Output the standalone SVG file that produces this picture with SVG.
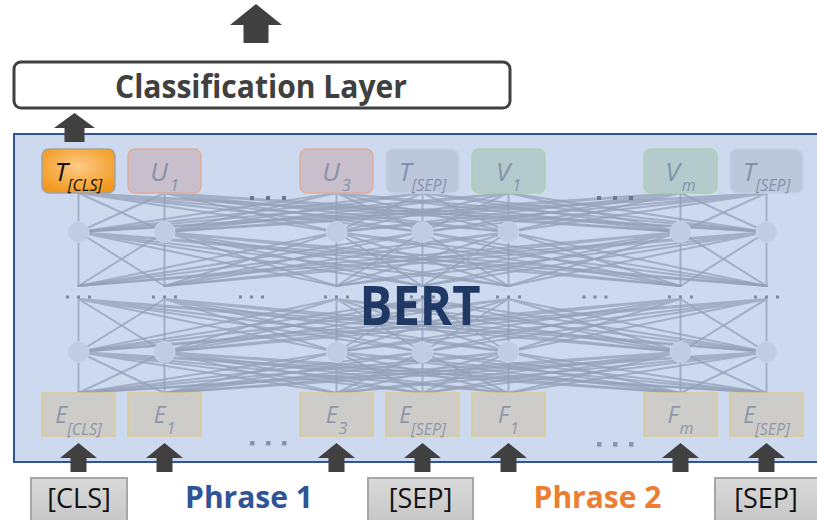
<svg xmlns="http://www.w3.org/2000/svg" xmlns:xlink="http://www.w3.org/1999/xlink" width="817" height="520" viewBox="0 0 817 520">
  <defs>
    <radialGradient id="clsGlow" cx="0.5" cy="0.4" r="0.65">
      <stop offset="0" stop-color="#FCCB86"/>
      <stop offset="1" stop-color="#F2971A"/>
    </radialGradient>
    <linearGradient id="tokenFill" x1="0" y1="0" x2="0" y2="1">
      <stop offset="0" stop-color="#DADADA"/>
      <stop offset="1" stop-color="#C4C4C4"/>
    </linearGradient>
    <!-- small block arrow, tip up, origin at bottom centre -->
    <path id="upArrow" d="M0 -29L18.5 -14L8 -14L8 0L-8 0L-8 -14L-18.5 -14Z"/>
    <!-- one fully connected layer between seven columns, 10 units tall; scaled per layer -->
    <g id="meshLayer" class="mesh">
      <path d="M78.5 0L78.5 10M78.5 0L164.5 10M78.5 0L336.5 10M78.5 0L422.5 10M78.5 0L508.5 10M78.5 0L680.5 10M78.5 0L766.5 10"/>
      <path d="M164.5 0L78.5 10M164.5 0L164.5 10M164.5 0L336.5 10M164.5 0L422.5 10M164.5 0L508.5 10M164.5 0L680.5 10M164.5 0L766.5 10"/>
      <path d="M336.5 0L78.5 10M336.5 0L164.5 10M336.5 0L336.5 10M336.5 0L422.5 10M336.5 0L508.5 10M336.5 0L680.5 10M336.5 0L766.5 10"/>
      <path d="M422.5 0L78.5 10M422.5 0L164.5 10M422.5 0L336.5 10M422.5 0L422.5 10M422.5 0L508.5 10M422.5 0L680.5 10M422.5 0L766.5 10"/>
      <path d="M508.5 0L78.5 10M508.5 0L164.5 10M508.5 0L336.5 10M508.5 0L422.5 10M508.5 0L508.5 10M508.5 0L680.5 10M508.5 0L766.5 10"/>
      <path d="M680.5 0L78.5 10M680.5 0L164.5 10M680.5 0L336.5 10M680.5 0L422.5 10M680.5 0L508.5 10M680.5 0L680.5 10M680.5 0L766.5 10"/>
      <path d="M766.5 0L78.5 10M766.5 0L164.5 10M766.5 0L336.5 10M766.5 0L422.5 10M766.5 0L508.5 10M766.5 0L680.5 10M766.5 0L766.5 10"/>
    </g>
    <!-- three small dots used in the middle row -->
    <g id="midDots" class="middot">
      <rect x="-12.5" y="-1.5" width="3" height="3"/>
      <rect x="-1.5" y="-1.5" width="3" height="3"/>
      <rect x="9.5" y="-1.5" width="3" height="3"/>
    </g>
  </defs>
  <style>
    .arrow { fill: #404040; }
    .mesh path { fill: none; stroke: #94A0B8; stroke-width: 2; stroke-opacity: 0.75; stroke-linecap: round; vector-effect: non-scaling-stroke; }
    .unit { fill: #C0CCE1; stroke: #CAD5E9; stroke-width: 1; }
    .middot rect { fill: #7F8AA2; }
    .topdot { fill: #6C778D; }
    .botdot { fill: #8A95AB; }
    .lbl { font-family: "Open Sans", "Liberation Sans", sans-serif; font-style: italic; text-anchor: middle; }
    .top { font-size: 26px; fill: #8592AB; }
    .emb { font-size: 23px; fill: #8D97AC; }
    .sub { font-size: 16px; }
    .u { fill: #C9BECB; stroke: #E1AD97; stroke-width: 1.5; }
    .sep { fill: #BCC7DB; stroke: #C6D0E3; stroke-width: 1.5; }
    .v { fill: #B5CACD; stroke: #A9D2AE; stroke-width: 1.5; }
    .e { fill: #CDCCC8; stroke: #DCCB8E; stroke-width: 1.5; }
    .tok { fill: url(#tokenFill); stroke: #A6A6A6; stroke-width: 2; }
    .toktxt { font-family: "Open Sans", "Liberation Sans", sans-serif; font-size: 27px; fill: #111111; text-anchor: middle; }
    .phrase { font-family: "Open Sans", "Liberation Sans", sans-serif; font-weight: bold; font-size: 30px; text-anchor: middle; }
  </style>

  <rect width="817" height="520" fill="#FFFFFF"/>

  <!-- BERT encoder frame -->
  <g id="bert">
    <rect x="14" y="134" width="810" height="328" fill="#CDD9EE" stroke="#2F5597" stroke-width="2"/>
  </g>

  <!-- connections between layers -->
  <g id="connectors">
    <use xlink:href="#meshLayer" transform="translate(0 193) scale(1 3.9)"/>
    <use xlink:href="#meshLayer" transform="translate(0 232) scale(1 5.4)"/>
    <use xlink:href="#meshLayer" transform="translate(0 299) scale(1 5.3)"/>
    <use xlink:href="#meshLayer" transform="translate(0 352) scale(1 4.1)"/>
  </g>

  <!-- hidden units, first row -->
  <g id="h1-0"><circle class="unit" cx="78.5" cy="232" r="10.5"/></g>
  <g id="h1-1"><circle class="unit" cx="164.5" cy="232" r="10.5"/></g>
  <g id="h1-3"><circle class="unit" cx="336.5" cy="232" r="10.5"/></g>
  <g id="h1-4"><circle class="unit" cx="422.5" cy="232" r="10.5"/></g>
  <g id="h1-5"><circle class="unit" cx="508.5" cy="232" r="10.5"/></g>
  <g id="h1-7"><circle class="unit" cx="680.5" cy="232" r="10.5"/></g>
  <g id="h1-8"><circle class="unit" cx="766.5" cy="232" r="10.5"/></g>

  <!-- hidden units, second row -->
  <g id="h2-0"><circle class="unit" cx="78.5" cy="352" r="10.5"/></g>
  <g id="h2-1"><circle class="unit" cx="164.5" cy="352" r="10.5"/></g>
  <g id="h2-3"><circle class="unit" cx="336.5" cy="352" r="10.5"/></g>
  <g id="h2-4"><circle class="unit" cx="422.5" cy="352" r="10.5"/></g>
  <g id="h2-5"><circle class="unit" cx="508.5" cy="352" r="10.5"/></g>
  <g id="h2-7"><circle class="unit" cx="680.5" cy="352" r="10.5"/></g>
  <g id="h2-8"><circle class="unit" cx="766.5" cy="352" r="10.5"/></g>

  <!-- elided middle layers -->
  <g id="middle-dots">
    <use xlink:href="#midDots" x="78.5" y="297"/>
    <use xlink:href="#midDots" x="164.5" y="297"/>
    <use xlink:href="#midDots" x="251.5" y="297"/>
    <use xlink:href="#midDots" x="336.5" y="297"/>
    <use xlink:href="#midDots" x="422.5" y="297"/>
    <use xlink:href="#midDots" x="508.5" y="297"/>
    <use xlink:href="#midDots" x="595" y="297"/>
    <use xlink:href="#midDots" x="680.5" y="297"/>
    <use xlink:href="#midDots" x="766.5" y="297"/>
  </g>

  <!-- output tokens -->
  <g id="t-cls">
    <rect x="42" y="149" width="73" height="44" rx="7" fill="url(#clsGlow)" stroke="#A3A3A3" stroke-width="1.5"/>
    <text class="lbl" x="78.5" y="181" font-size="26" fill="#111111">T<tspan class="sub" dx="0" dy="10">[CLS]</tspan></text>
  </g>
  <g id="u1">
    <rect class="u" x="128" y="149" width="73" height="44" rx="7"/>
    <text class="lbl top" x="164.5" y="181">U<tspan class="sub" dx="2" dy="10">1</tspan></text>
  </g>
  <g id="u3">
    <rect class="u" x="300" y="149" width="73" height="44" rx="7"/>
    <text class="lbl top" x="336.5" y="181">U<tspan class="sub" dx="2" dy="10">3</tspan></text>
  </g>
  <g id="t-sep-1">
    <rect class="sep" x="386" y="149" width="73" height="44" rx="7"/>
    <text class="lbl top" x="422.5" y="181">T<tspan class="sub" dx="0" dy="10">[SEP]</tspan></text>
  </g>
  <g id="v1">
    <rect class="v" x="472" y="149" width="73" height="44" rx="7"/>
    <text class="lbl top" x="508.5" y="181">V<tspan class="sub" dx="2" dy="10">1</tspan></text>
  </g>
  <g id="vm">
    <rect class="v" x="644" y="149" width="73" height="44" rx="7"/>
    <text class="lbl top" x="680.5" y="181">V<tspan class="sub" dx="2" dy="10">m</tspan></text>
  </g>
  <g id="t-sep-2">
    <rect class="sep" x="730" y="149" width="73" height="44" rx="7"/>
    <text class="lbl top" x="766.5" y="181">T<tspan class="sub" dx="0" dy="10">[SEP]</tspan></text>
  </g>

  <!-- elided output tokens -->
  <g id="top-dots" class="topdot">
    <rect x="250" y="196" width="4" height="4"/>
    <rect x="266" y="196" width="4" height="4"/>
    <rect x="282" y="196" width="4" height="4"/>
    <rect x="597" y="196" width="4" height="4"/>
    <rect x="613" y="196" width="4" height="4"/>
    <rect x="629" y="196" width="4" height="4"/>
  </g>

  <!-- input embeddings -->
  <g id="e-cls">
    <rect class="e" x="42" y="393" width="73" height="43"/>
    <text class="lbl emb" x="78.5" y="423">E<tspan class="sub" dx="0" dy="12">[CLS]</tspan></text>
  </g>
  <g id="e1">
    <rect class="e" x="128" y="393" width="73" height="43"/>
    <text class="lbl emb" x="164.5" y="423">E<tspan class="sub" dx="1" dy="11">1</tspan></text>
  </g>
  <g id="e3">
    <rect class="e" x="300" y="393" width="73" height="43"/>
    <text class="lbl emb" x="336.5" y="423">E<tspan class="sub" dx="1" dy="11">3</tspan></text>
  </g>
  <g id="e-sep-1">
    <rect class="e" x="386" y="393" width="73" height="43"/>
    <text class="lbl emb" x="422.5" y="423">E<tspan class="sub" dx="0" dy="12">[SEP]</tspan></text>
  </g>
  <g id="f1">
    <rect class="e" x="472" y="393" width="73" height="43"/>
    <text class="lbl emb" x="508.5" y="423">F<tspan class="sub" dx="1" dy="11">1</tspan></text>
  </g>
  <g id="fm">
    <rect class="e" x="644" y="393" width="73" height="43"/>
    <text class="lbl emb" x="680.5" y="423">F<tspan class="sub" dx="1" dy="11">m</tspan></text>
  </g>
  <g id="e-sep-2">
    <rect class="e" x="730" y="393" width="73" height="43"/>
    <text class="lbl emb" x="766.5" y="423">E<tspan class="sub" dx="0" dy="12">[SEP]</tspan></text>
  </g>

  <!-- elided input embeddings -->
  <g id="bottom-dots" class="botdot">
    <rect x="250" y="441" width="4.5" height="4.5"/>
    <rect x="266" y="441" width="4.5" height="4.5"/>
    <rect x="282" y="441" width="4.5" height="4.5"/>
    <rect x="597" y="442" width="4.5" height="4.5"/>
    <rect x="613" y="442" width="4.5" height="4.5"/>
    <rect x="629" y="442" width="4.5" height="4.5"/>
  </g>

  <!-- model title -->
  <text x="420" y="325" font-family="'Open Sans', 'Liberation Sans', sans-serif" font-weight="bold" font-size="53" fill="#1F3864" text-anchor="middle" textLength="121" lengthAdjust="spacingAndGlyphs">BERT</text>

  <!-- classifier head -->
  <g id="classification-layer">
    <rect x="14" y="62" width="496" height="46" rx="7" fill="#FFFFFF" stroke="#404040" stroke-width="3"/>
    <text x="261" y="98" font-family="'Open Sans', 'Liberation Sans', sans-serif" font-weight="bold" font-size="32" fill="#404040" text-anchor="middle" textLength="292" lengthAdjust="spacingAndGlyphs">Classification Layer</text>
  </g>

  <!-- flow arrows -->
  <g id="arrows" class="arrow">
    <path d="M256 4L282 25L268.5 25L268.5 43L243.5 43L243.5 25L230 25Z"/>
    <path d="M74.5 113L95 128L84.5 128L84.5 142L64.5 142L64.5 128L54 128Z"/>
    <use xlink:href="#upArrow" x="78.5" y="472"/>
    <use xlink:href="#upArrow" x="164.5" y="472"/>
    <use xlink:href="#upArrow" x="336.5" y="472"/>
    <use xlink:href="#upArrow" x="422.5" y="472"/>
    <use xlink:href="#upArrow" x="508.5" y="472"/>
    <use xlink:href="#upArrow" x="680.5" y="472"/>
    <use xlink:href="#upArrow" x="766.5" y="472"/>
  </g>

  <!-- input tokens -->
  <g id="tok-cls">
    <rect class="tok" x="31" y="478" width="96" height="50"/>
    <text class="toktxt" x="79" y="508">[CLS]</text>
  </g>
  <g id="tok-sep-1">
    <rect class="tok" x="368" y="478" width="105" height="50"/>
    <text class="toktxt" x="420.5" y="508">[SEP]</text>
  </g>
  <g id="tok-sep-2">
    <rect class="tok" x="715" y="478" width="104" height="50"/>
    <text class="toktxt" x="766" y="508">[SEP]</text>
  </g>

  <!-- sentence labels -->
  <text class="phrase" x="249" y="508" fill="#2F5597">Phrase 1</text>
  <text class="phrase" x="597.5" y="508" fill="#ED7D31">Phrase 2</text>
</svg>
